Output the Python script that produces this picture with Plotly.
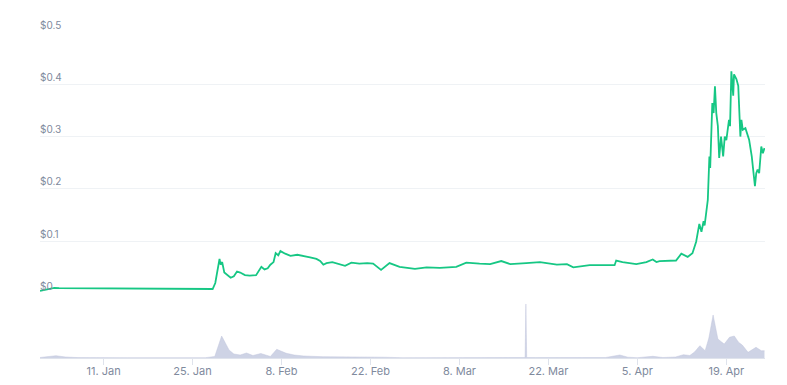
import plotly.graph_objects as go

# Price series (USD)
price_time = [
    "2021-01-01 00:00", "2021-01-02 12:00", "2021-01-03 06:00", "2021-01-04 00:00",
    "2021-01-06 00:00", "2021-01-08 00:00", "2021-01-10 00:00", "2021-01-12 00:00",
    "2021-01-14 00:00", "2021-01-17 00:00", "2021-01-20 00:00", "2021-01-23 00:00",
    "2021-01-26 00:00", "2021-01-28 04:00", "2021-01-28 14:00", "2021-01-28 22:00",
    "2021-01-29 06:00", "2021-01-29 10:00", "2021-01-29 16:00", "2021-01-30 00:00",
    "2021-01-30 12:00", "2021-01-31 00:00", "2021-01-31 12:00", "2021-02-01 00:00",
    "2021-02-01 12:00", "2021-02-02 06:00", "2021-02-03 00:00", "2021-02-04 00:00",
    "2021-02-04 20:00", "2021-02-05 08:00", "2021-02-05 20:00", "2021-02-06 06:00",
    "2021-02-06 18:00", "2021-02-07 02:00", "2021-02-07 12:00", "2021-02-07 20:00",
    "2021-02-08 14:00", "2021-02-09 10:00", "2021-02-10 12:00", "2021-02-11 12:00",
    "2021-02-12 12:00", "2021-02-13 12:00", "2021-02-14 02:00", "2021-02-14 14:00",
    "2021-02-15 02:00", "2021-02-16 00:00", "2021-02-17 00:00", "2021-02-18 00:00",
    "2021-02-19 00:00", "2021-02-20 06:00", "2021-02-21 12:00", "2021-02-22 10:00",
    "2021-02-23 16:00", "2021-02-25 00:00", "2021-02-26 14:00", "2021-02-28 00:00",
    "2021-03-01 00:00", "2021-03-02 20:00", "2021-03-04 22:00", "2021-03-07 12:00",
    "2021-03-09 02:00", "2021-03-11 04:00", "2021-03-12 20:00", "2021-03-14 14:00",
    "2021-03-16 00:00", "2021-03-18 12:00", "2021-03-20 16:00", "2021-03-23 08:00",
    "2021-03-24 22:00", "2021-03-25 22:00", "2021-03-28 12:00", "2021-04-01 10:00",
    "2021-04-01 16:00", "2021-04-02 16:00", "2021-04-04 20:00", "2021-04-06 10:00",
    "2021-04-07 10:00", "2021-04-08 00:00", "2021-04-08 12:00", "2021-04-11 02:00",
    "2021-04-11 22:00", "2021-04-12 22:00", "2021-04-13 16:00", "2021-04-14 06:00",
    "2021-04-14 18:00", "2021-04-15 02:00", "2021-04-15 10:00", "2021-04-15 14:00",
    "2021-04-16 02:00", "2021-04-16 08:00", "2021-04-16 11:00", "2021-04-16 19:00",
    "2021-04-17 00:00", "2021-04-17 05:00", "2021-04-17 10:00", "2021-04-17 16:00",
    "2021-04-17 21:00", "2021-04-18 04:00", "2021-04-18 12:00", "2021-04-18 18:00",
    "2021-04-19 00:00", "2021-04-19 10:00", "2021-04-19 14:00", "2021-04-19 19:00",
    "2021-04-20 02:00", "2021-04-20 05:00", "2021-04-20 14:00", "2021-04-20 21:00",
    "2021-04-21 02:00", "2021-04-21 05:00", "2021-04-21 09:00", "2021-04-21 14:00",
    "2021-04-22 00:00", "2021-04-22 05:00", "2021-04-22 14:00", "2021-04-23 00:00",
    "2021-04-23 06:00", "2021-04-23 12:00", "2021-04-23 17:00", "2021-04-23 22:00",
    "2021-04-24 04:00", "2021-04-24 12:00", "2021-04-24 18:00", "2021-04-25 00:00",
]
price_value = [
    0.0047, 0.0085, 0.0105, 0.0100,
    0.0098, 0.0102, 0.0100, 0.0097,
    0.0090, 0.0093, 0.0090, 0.0088,
    0.0087, 0.0085, 0.020, 0.045,
    0.066, 0.055, 0.060, 0.040,
    0.035, 0.030, 0.033, 0.042,
    0.040, 0.035, 0.034, 0.035,
    0.051, 0.046, 0.048, 0.055,
    0.060, 0.077, 0.073, 0.081,
    0.076, 0.072, 0.074, 0.072,
    0.069, 0.066, 0.062, 0.055,
    0.058, 0.060, 0.056, 0.053,
    0.059, 0.057, 0.058, 0.057,
    0.045, 0.058, 0.051, 0.049,
    0.047, 0.050, 0.049, 0.051,
    0.059, 0.057, 0.056, 0.062,
    0.056, 0.058, 0.060, 0.055,
    0.056, 0.050, 0.054, 0.054,
    0.063, 0.060, 0.056, 0.060,
    0.065, 0.060, 0.062, 0.063,
    0.076, 0.070, 0.077, 0.099,
    0.133, 0.118, 0.138, 0.130,
    0.179, 0.262, 0.240, 0.364,
    0.345, 0.396, 0.345, 0.320,
    0.259, 0.300, 0.262, 0.300,
    0.293, 0.332, 0.320, 0.425,
    0.378, 0.419, 0.410, 0.397,
    0.332, 0.300, 0.332, 0.313,
    0.316, 0.307, 0.294, 0.262,
    0.237, 0.205, 0.230, 0.237,
    0.230, 0.281, 0.268, 0.278,
]

# Volume series (relative units)
volume_time = [
    "2021-01-01 00:00", "2021-01-02 12:00", "2021-01-03 12:00", "2021-01-05 00:00",
    "2021-01-07 00:00", "2021-01-15 00:00", "2021-01-27 00:00", "2021-01-28 12:00",
    "2021-01-29 00:00", "2021-01-29 14:00", "2021-01-30 06:00", "2021-01-30 18:00",
    "2021-01-31 12:00", "2021-02-01 12:00", "2021-02-02 12:00", "2021-02-03 12:00",
    "2021-02-04 18:00", "2021-02-05 12:00", "2021-02-06 06:00", "2021-02-07 06:00",
    "2021-02-08 00:00", "2021-02-08 18:00", "2021-02-10 00:00", "2021-02-11 12:00",
    "2021-02-14 12:00", "2021-02-18 00:00", "2021-02-21 00:00", "2021-02-24 00:00",
    "2021-02-27 00:00", "2021-03-03 00:00", "2021-03-09 00:00", "2021-03-11 00:00",
    "2021-03-14 12:00", "2021-03-16 00:00", "2021-03-18 08:00", "2021-03-18 11:00",
    "2021-03-18 14:00", "2021-03-20 00:00", "2021-03-25 00:00", "2021-03-31 00:00",
    "2021-04-02 06:00", "2021-04-03 12:00", "2021-04-05 00:00", "2021-04-07 10:00",
    "2021-04-09 00:00", "2021-04-11 00:00", "2021-04-12 06:00", "2021-04-13 06:00",
    "2021-04-14 00:00", "2021-04-14 20:00", "2021-04-15 16:00", "2021-04-16 06:00",
    "2021-04-16 22:00", "2021-04-17 06:00", "2021-04-17 16:00", "2021-04-18 06:00",
    "2021-04-18 16:00", "2021-04-19 12:00", "2021-04-20 06:00", "2021-04-20 22:00",
    "2021-04-21 12:00", "2021-04-22 10:00", "2021-04-23 00:00", "2021-04-23 16:00",
    "2021-04-24 12:00", "2021-04-25 00:00",
]
volume_value = [
    0.5, 1.5, 2.3, 1.0,
    0.4, 0.3, 0.3, 1.5,
    10, 22, 14, 8,
    4, 3, 5, 2.5,
    4.5, 3, 1.5, 8.7,
    7, 4.7, 3, 2,
    1.3, 1.3, 1.0, 0.8,
    0.3, 0.3, 1.0, 0.4,
    1.0, 0.5, 0.5, 54,
    0.5, 0.4, 0.3, 0.5,
    3, 0.8, 0.3, 1.7,
    0.5, 1.0, 3.3, 2.5,
    6, 12.3, 7.3, 20,
    43, 31, 19, 16,
    14, 20.7, 22, 15.7,
    13, 5.7, 8, 10.7,
    7.3, 7.3,
]

tick_dates = ["2021-01-11", "2021-01-25", "2021-02-08", "2021-02-22",
              "2021-03-08", "2021-03-22", "2021-04-05", "2021-04-19"]
tick_labels = ["11. Jan", "25. Jan", "8. Feb", "22. Feb",
               "8. Mar", "22. Mar", "5. Apr", "19. Apr"]
price_ticks = [0, 0.1, 0.2, 0.3, 0.4, 0.5]
price_tick_labels = ["$0", "$0.1", "$0.2", "$0.3", "$0.4", "$0.5"]

fig = go.Figure()
fig.add_trace(go.Scatter(
    x=volume_time, y=volume_value, yaxis="y2", mode="lines",
    line=dict(color="rgba(190,196,219,0.9)", width=0.5),
    fill="tozeroy", fillcolor="rgba(198,203,224,0.85)",
    hoverinfo="skip", showlegend=False,
))
fig.add_trace(go.Scatter(
    x=price_time, y=price_value, yaxis="y", mode="lines",
    line=dict(color="#16c784", width=1.8),
    showlegend=False,
))

font = dict(family="Inter, Open Sans, sans-serif", size=11, color="#808a9d")

fig.update_layout(
    width=787, height=385,
    margin=dict(l=40, r=22, t=32, b=27, autoexpand=False),
    paper_bgcolor="white", plot_bgcolor="white",
    font=font,
    xaxis=dict(
        type="date", range=["2021-01-01 00:00", "2021-04-25 02:00"],
        anchor="y2", automargin=False,
        tickvals=tick_dates, ticktext=tick_labels,
        showline=True, linecolor="#dfe3ec", linewidth=1,
        ticks="outside", ticklen=6, tickcolor="#dfe3ec",
        ticklabelstandoff=-3,
        showgrid=False, zeroline=False,
        tickfont=dict(family="Inter, Open Sans, sans-serif", size=11, color="#808a9d"),
    ),
    yaxis=dict(
        domain=[0.198, 1.0], range=[0, 0.5], automargin=False,
        tickvals=price_ticks, ticktext=price_tick_labels,
        ticklabelposition="inside top", ticklabeloverflow="allow",
        ticklabelstandoff=-3,
        showgrid=True, gridcolor="#eff2f5", gridwidth=1,
        zeroline=False, showline=False, ticks="",
        tickfont=dict(family="Inter, Open Sans, sans-serif", size=10, color="#808a9d"),
    ),
    yaxis2=dict(
        domain=[0.0, 0.17], range=[0, 55.4], automargin=False,
        visible=False, showgrid=False, zeroline=False,
    ),
)

fig.write_html(
    "out.html",
    config={"displayModeBar": False},
    post_script="document.body.style.margin='0';document.body.style.overflow='hidden';",
)
